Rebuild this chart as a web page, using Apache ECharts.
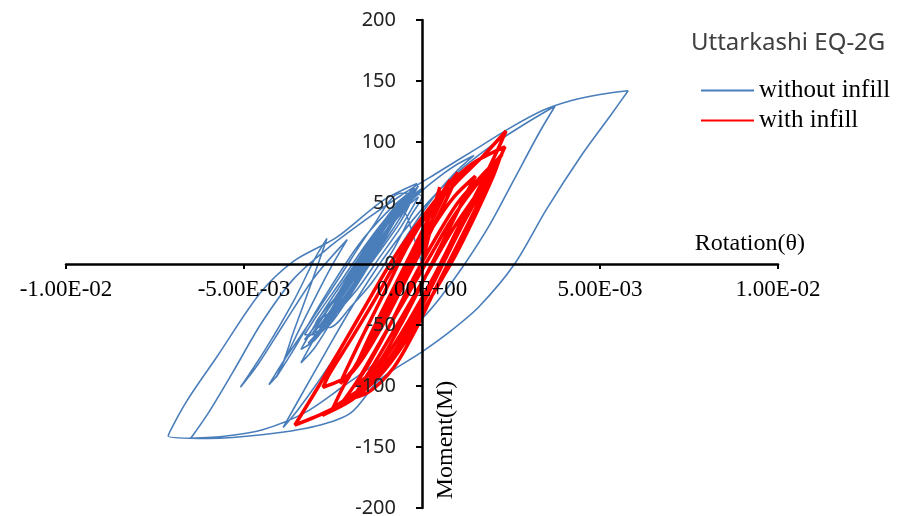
<!DOCTYPE html>
<html>
<head>
<meta charset="utf-8">
<script src="https://cdn.jsdelivr.net/npm/echarts@6/dist/echarts.min.js"></script>
<style>
html,body{margin:0;padding:0;background:#fff;}
#chart{width:902px;height:516px;}
</style>
</head>
<body>
<div id="chart"></div>
<script>
// Rotation values are in units of 1E-03 rad; Moment
var xTickLabels = ['-1.00E-02', '-5.00E-03', '0.00E+00', '5.00E-03', '1.00E-02'];
var xTickValues = [-10, -5, 0, 5, 10];
var seriesNames = ['without infill', 'with infill'];
var chartTitle = 'Uttarkashi EQ-2G';

var withoutInfill = [
  [0,0],[-0.3,28],[-0.5,42],[-0.9,30],[-1.5,5],[-2.2,-25],[-2.7,-45],[-2.4,-40],[-1.9,-18],[-1.2,10],[-0.6,35],
  [-0.3,52],[-0.7,45],[-1.3,20],[-2.0,-10],[-2.7,-40],[-3.1,-58],[-2.8,-52],[-2.2,-28],[-1.5,0],[-0.9,25],[-0.4,48],[-0.2,60],
  [-0.5,55],[-1.2,30],[-2.0,-5],[-2.8,-40],[-3.4,-70],[-3.0,-62],[-2.4,-38],[-1.7,-8],[-1.0,25],[-0.5,50],[-0.1,64],
  [-0.4,50],[-0.9,35],[-1.6,5],[-2.3,-28],[-2.9,-55],[-2.6,-50],[-2.0,-25],[-1.3,8],[-0.7,38],[-0.3,55],
  [-0.8,40],[-1.4,12],[-2.1,-20],[-2.7,-48],[-3.2,-65],[-2.9,-58],[-2.3,-33],[-1.6,-2],[-1.0,28],[-0.5,50],[0.0,62],
  [-0.4,52],[-1.0,28],[-1.8,-5],[-2.5,-38],[-3.0,-60],[-2.7,-52],[-2.0,-20],[-1.3,12],[-0.7,42],[-0.2,58],
  [-0.9,35],[-1.7,0],[-2.4,-32],[-2.9,-52],[-2.5,-42],[-1.9,-15],[-1.1,20],[-0.6,45],[-0.3,57],
  [-0.7,48],[-1.2,28],[-1.9,-2],[-2.6,-35],[-3.3,-62],[-3.0,-55],[-2.5,-35],[-1.8,-5],[-1.2,22],[-0.8,40],[-0.4,56],
  [-0.9,42],[-1.5,15],[-2.2,-18],[-2.8,-44],[-2.4,-35],[-1.7,-6],[-1.0,26],[-0.5,48],[0.0,60],
  [-0.6,50],[-1.0,38],[-1.6,15],[-2.3,-15],[-2.9,-40],[-3.3,-58],[-3.0,-58],[-2.4,-40],[-1.8,-20],[-1.2,5],[-0.6,30],[-0.1,55],
  [-0.5,45],[-1.1,22],[-1.8,-8],[-2.5,-30],[-3.0,-50],[-2.6,-52],[-2.0,-35],[-1.4,-15],[-0.8,12],[-0.3,40],[0.0,55],
  [-0.6,58],[-1.4,30],[-2.3,-10],[-3.2,-50],[-3.9,-80],[-4.3,-99],
  [-4.0,-88],[-3.6,-55],[-3.1,-15],[-2.67,21],
  [-3.0,5],[-3.6,-30],[-4.4,-70],[-5.1,-101],
  [-4.6,-82],[-3.9,-50],[-3.0,-10],[-2.1,20],
  [-2.6,-5],[-3.3,-45],[-3.8,-75],[-4.1,-93],
  [-3.6,-70],[-2.8,-30],[-1.8,15],[-0.9,45],[-0.2,62],
  [-0.6,48],[-1.4,15],[-2.3,-25],[-3.0,-60],[-3.4,-81],
  [-3.0,-68],[-2.3,-35],[-1.5,5],[-0.7,40],[0.0,60],[0.6,74],[1.0,82],[1.46,89],
  [0.9,74],[0.2,50],[-0.6,15],[-1.4,-25],[-2.2,-65],[-3.0,-100],[-3.5,-120],[-3.9,-134],
  [-3.4,-108],[-2.7,-72],[-1.9,-32],[-1.0,8],[0.0,45],[1.0,75],[2.0,98],[2.9,115],[3.74,129.5],
  [3.3,108],[2.6,70],[1.9,32],[1.2,0],[0.5,-28],[0.0,-45],[-0.6,-62],[-1.2,-79],[-2.2,-100],[-3.3,-122],[-4.5,-136],[-5.5,-141],[-6.5,-143],
  [-6.0,-122],[-5.3,-88],[-4.5,-48],[-3.6,-12],[-2.6,14],[-1.5,38],[-0.5,58],[0.5,76],[1.5,94],[2.5,112],[3.4,126],[4.2,134],[5.0,139],[5.79,142],
  [5.3,122],[4.5,90],[3.5,45],[2.6,0],[1.6,-35],[0.8,-55],[0.0,-72],[-1.2,-95],[-2.0,-122],[-3.0,-133],[-4.5,-140],[-6.0,-143],[-7.13,-141],
  [-6.6,-112],[-5.76,-76],[-4.55,-24],[-3.62,2],[-2.39,22],[-1.1,52],[-0.14,66],
  [-0.6,50],[-1.3,22],[-2.0,-8],[-2.6,-35],[-2.2,-22],[-1.5,0]
];

var withInfill = [
  [0,0],[0.25,30],[0.5,63],
  [0.3,45],[-0.2,15],[-0.8,-20],[-1.4,-55],[-1.8,-80],
  [-1.6,-68],[-1.1,-40],[-0.6,-10],[0.0,25],[0.4,50],[0.79,69],
  [0.6,55],[0.1,25],[-0.5,-10],[-1.2,-50],[-1.9,-85],[-2.3,-98],
  [-2.1,-85],[-1.6,-55],[-1.0,-20],[-0.4,15],[0.3,48],[1.01,75],
  [0.8,60],[0.3,30],[-0.4,-10],[-1.2,-55],[-2.0,-90],[-2.78,-101],
  [-2.6,-90],[-2.0,-62],[-1.3,-28],[-0.6,8],[0.2,42],[1.0,68],[1.7,88],[2.36,109],
  [2.1,92],[1.6,62],[1.0,28],[0.3,-12],[-0.4,-48],[-1.1,-80],[-1.8,-105],[-2.6,-120],[-3.57,-132],
  [-2.9,-100],[-2.2,-65],[-1.6,-35],[-0.9,0],[-0.2,30],[0.6,60],[1.4,82],[2.33,96],
  [2.0,75],[1.5,45],[0.9,10],[0.3,-25],[-0.2,-55],[-0.8,-85],[-1.5,-105],[-2.2,-112],
  [-1.8,-95],[-1.2,-65],[-0.5,-30],[0.2,5],[0.8,35],[1.4,60],[1.9,78],[2.25,90],
  [1.8,70],[1.2,40],[0.6,5],[0.0,-30],[-0.7,-68],[-1.4,-95],[-2.0,-108],
  [-2.5,-118],[-2.2,-100],[-1.6,-70],[-1.0,-38],[-0.4,-5],[0.3,30],[0.9,55],[1.5,72],
  [1.2,55],[0.7,25],[0.1,-10],[-0.6,-50],[-1.3,-85],[-1.9,-100],
  [-1.5,-82],[-0.9,-50],[-0.3,-15],[0.4,22],[1.0,50],[1.6,70],[2.1,85],
  [1.7,62],[1.1,30],[0.5,-5],[-0.1,-40],[-0.9,-78],[-1.6,-98],
  [-1.9,-108],[-1.2,-75],[-0.5,-40],[0.2,-5],[0.9,30],[1.6,60],[2.2,88],
  [2.0,72],[1.5,40],[0.9,5],[0.2,-30],[-0.5,-65],[-1.2,-92],[-2.0,-112],[-2.8,-124]
];

var chart = echarts.init(document.getElementById('chart'), null, {renderer: 'canvas'});
var serif = '"Liberation Serif", "Times New Roman", serif';
var sans = '"Noto Sans", "Open Sans", sans-serif';

chart.setOption({
  animation: false,
  backgroundColor: '#ffffff',
  title: {
    text: chartTitle,
    left: 686, top: 26,
    textStyle: {fontFamily: sans, fontSize: 24, fontWeight: 'normal', color: '#404040'}
  },
  legend: {
    orient: 'vertical',
    left: 695, top: 73,
    itemWidth: 53, itemHeight: 14, itemGap: 5,
    itemStyle: {opacity: 0},
    data: seriesNames,
    textStyle: {fontFamily: serif, fontSize: 25, color: '#000'}
  },
  grid: {left: 66, right: 124, top: 20, bottom: 8, outerBoundsMode: 'none'},
  xAxis: {
    type: 'value', min: -10, max: 10, interval: 5, z: 10,
    position: 'bottom', offset: -244,
    name: 'Rotation(θ)', nameLocation: 'end', nameGap: 27,
    nameTextStyle: {fontFamily: serif, fontSize: 24, color: '#000', align: 'right', verticalAlign: 'bottom', padding: [0,0,8,0]},
    axisLine: {onZero: false, lineStyle: {color: '#000', width: 2.5}},
    axisTick: {show: true, length: 5, lineStyle: {color: '#000', width: 2}},
    splitLine: {show: false},
    axisLabel: {
      margin: 14, fontFamily: serif, fontSize: 23, color: '#000',
      formatter: function (v) { var i = xTickValues.indexOf(v); return i >= 0 ? xTickLabels[i] : ''; }
    }
  },
  yAxis: {
    type: 'value', min: -200, max: 200, interval: 50, z: 10,
    position: 'left', offset: -356,
    axisLine: {onZero: false, lineStyle: {color: '#000', width: 2.5}},
    axisTick: {show: true, length: 6, lineStyle: {color: '#000', width: 2}},
    splitLine: {show: false},
    axisLabel: {margin: 26, fontFamily: sans, fontSize: 20, color: '#222'}
  },
  graphic: [{
    type: 'text', x: 446, y: 440, rotation: Math.PI / 2, z: 100,
    style: {text: 'Moment(M)', font: '24px "Liberation Serif"', fill: '#000', align: 'center', verticalAlign: 'middle'}
  }],
  series: [
    {
      name: seriesNames[0], type: 'line', data: withoutInfill, symbol: 'none', showSymbol: false,
      smooth: 0.3, lineStyle: {color: '#4a7ebb', width: 1.6}, itemStyle: {color: '#4a7ebb'}, z: 2
    },
    {
      name: seriesNames[1], type: 'line', data: withInfill, symbol: 'none', showSymbol: false,
      smooth: 0.3, lineStyle: {color: '#ff0000', width: 3.5}, itemStyle: {color: '#ff0000'}, z: 3
    }
  ]
});
</script>
</body>
</html>
